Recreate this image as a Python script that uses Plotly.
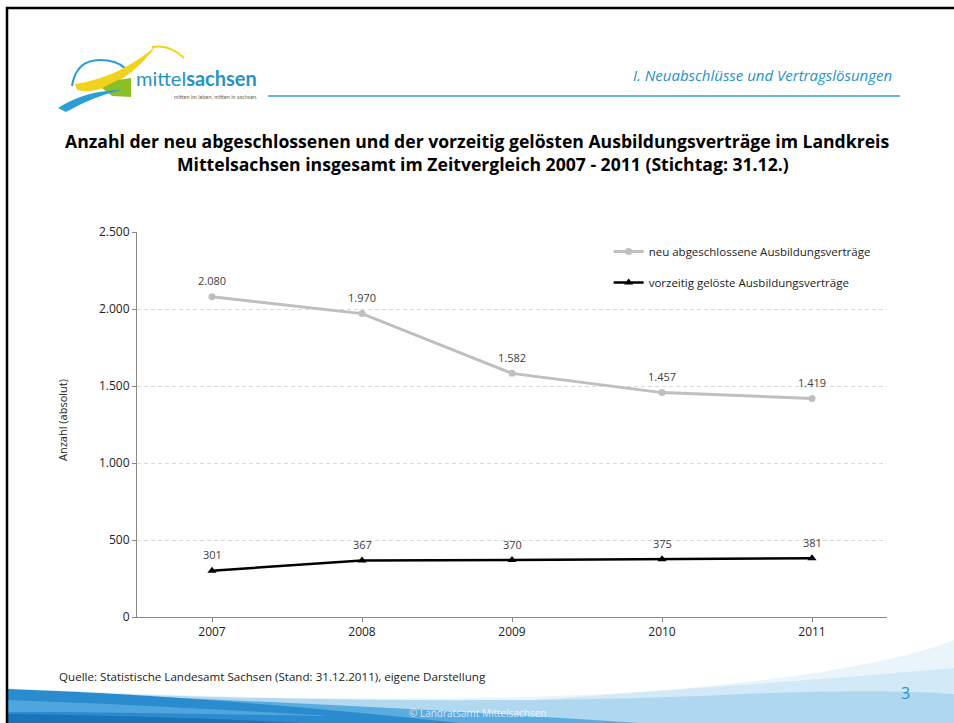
import plotly.graph_objects as go

# data
years = ["2007", "2008", "2009", "2010", "2011"]
neu_abgeschlossen = [2080, 1970, 1582, 1457, 1419]
vorzeitig_geloest = [301, 367, 370, 375, 381]
y_ticks = [0, 500, 1000, 1500, 2000, 2500]

W, H = 954, 723
FONT = "Open Sans"
BLUE = "#2592cc"


def fmt(v):
    return f"{v:,}".replace(",", ".")


fig = go.Figure()

fig.add_trace(go.Scatter(
    x=years, y=neu_abgeschlossen, mode="lines+markers",
    name="neu abgeschlossene Ausbildungsverträge", legendgroup="a",
    line=dict(color="#bfbfbf", width=3),
    marker=dict(symbol="circle", size=7, color="#bfbfbf"),
))
fig.add_trace(go.Scatter(
    x=years, y=vorzeitig_geloest, mode="lines+markers",
    name="vorzeitig gelöste Ausbildungsverträge", legendgroup="b",
    line=dict(color="#000000", width=2.5),
    marker=dict(symbol="triangle-up", size=8, color="#000000"),
))

# invisible helper subplot in pixel coordinates for slide decoration
fig.add_trace(go.Scatter(x=[0, W], y=[0, H], mode="markers", xaxis="x2", yaxis="y2",
                         marker=dict(opacity=0), showlegend=False, hoverinfo="skip"))

annotations = []
for serie in (neu_abgeschlossen, vorzeitig_geloest):
    for i, v in enumerate(serie):
        annotations.append(dict(x=i, y=v, xref="x", yref="y", text=fmt(v), showarrow=False,
                                yshift=16, font=dict(size=11, color="#404040", family=FONT)))


def txt(x, y, text, size, color="#000", xanchor="center", family=FONT, **kw):
    annotations.append(dict(x=x, y=y, xref="x2", yref="y2", text=text, showarrow=False,
                            xanchor=xanchor, yanchor="middle",
                            font=dict(size=size, color=color, family=family), **kw))


# titles & slide text
txt(477, 141, "<b>Anzahl der neu abgeschlossenen und der vorzeitig gelösten Ausbildungsverträge im Landkreis</b>", 17.6)
txt(483, 164, "<b>Mittelsachsen insgesamt im Zeitvergleich 2007 - 2011 (Stichtag: 31.12.)</b>", 17.6)
txt(894, 75, "<i>I. Neuabschlüsse und Vertragslösungen</i>", 15, BLUE, xanchor="right")
txt(57, 676, "Quelle: Statistische Landesamt Sachsen (Stand: 31.12.2011), eigene Darstellung", 11.6, "#222", xanchor="left")
txt(905, 693, "3", 16, BLUE)
txt(477, 713, "© Landratsamt Mittelsachsen", 10, "rgba(255,255,255,0.75)")
txt(62, 420, "Anzahl (absolut)", 11, "#222", textangle=-90)
# logo text
txt(259, 78, "mittel<b>sachsen</b>", 20, BLUE, xanchor="right", family="Lato")
txt(259, 97, "mitten im leben. mitten in sachsen.", 5.5, "#666", xanchor="right", family="Lato")

shapes = []


def path(d, fill=None, line=None, width=0, opacity=1):
    shapes.append(dict(type="path", path=d, xref="x2", yref="y2", layer="below",
                       fillcolor=fill if fill else "rgba(0,0,0,0)",
                       line=dict(color=line if line else "rgba(0,0,0,0)", width=width),
                       opacity=opacity))


# bottom wave
path("M 8,688 C 200,698 450,703 620,693 C 780,683 900,662 954,640 L 954,723 L 8,723 Z", "#eaf5fb")
path("M 200,723 C 450,705 700,690 954,668 L 954,723 Z", "#d2eaf7")
path("M 8,690 C 250,700 500,704 700,696 C 820,690 900,690 954,694 L 954,723 L 8,723 Z", "#a9d4ee", opacity=0.85)
path("M 8,690 C 200,699 420,708 640,723 L 8,723 Z", "#5aabdf")
path("M 8,689 C 150,694 300,706 460,723 L 8,723 Z", "#2a8bcf")
path("M 8,700 C 120,704 230,710 330,716 C 200,714 100,712 8,712 Z", "#5fb0e2", opacity=0.7)
path("M 8,714 C 150,716 250,720 300,723 L 8,723 Z", "#1c74b8")

# logo
path("M 72,86 Q 76,60 100,60 Q 116,60 125,68", line="#2a9fd6", width=2)
path("M 75,84 Q 118,78 156,46 Q 134,76 104,88 Q 88,93 77,90 Z", "#f2d21c")
path("M 152,47 Q 170,44 184,58", line="#f2d21c", width=2)
path("M 102,88 L 118,80 L 131,78 L 131,97 L 112,96 Z", "#8cbf26")
path("M 58,108 Q 86,90 122,90 Q 94,96 66,112 Z", "#2a9fd6")
path("M 268,96 L 900,96", line="#6ab8dc", width=2)

# slide frame
path("M 7,723 L 7,8 L 954,8", line="#000", width=2.5)

fig.update_layout(
    width=W, height=H,
    margin=dict(l=0, r=0, t=0, b=0, autoexpand=False),
    paper_bgcolor="white", plot_bgcolor="rgba(0,0,0,0)",
    separators=",.",
    font=dict(family=FONT, size=11, color="#404040"),
    showlegend=True,
    legend=dict(x=0.638, y=1 - 237 / H, xanchor="left", yanchor="top",
                bgcolor="rgba(0,0,0,0)", tracegroupgap=12,
                font=dict(size=11.5, color="#222", family=FONT)),
    xaxis=dict(domain=[137 / W, 887 / W], type="category", range=[-0.5, 4.5],
               showline=True, linecolor="#888", linewidth=1, showgrid=False,
               ticks="outside", ticklen=4, tickcolor="#888",
               tickfont=dict(size=12, color="#222"), fixedrange=True),
    yaxis=dict(domain=[(H - 617) / H, (H - 232) / H], range=[0, 2500],
               tickvals=y_ticks, tickformat=",d",
               showline=True, linecolor="#888", linewidth=1,
               showgrid=True, gridcolor="#d9d9d9", griddash="4px,3px", zeroline=False,
               ticks="outside", ticklen=4, tickcolor="#888",
               tickfont=dict(size=12, color="#222"), fixedrange=True),
    xaxis2=dict(domain=[0, 1], range=[0, W], visible=False, anchor="y2", fixedrange=True),
    yaxis2=dict(domain=[0, 1], range=[H, 0], visible=False, anchor="x2", fixedrange=True),
    annotations=annotations,
    shapes=shapes,
)

fig.write_html("out.html", config={"displayModeBar": False},
               post_script="document.body.style.margin='0';document.body.style.overflow='hidden';")
